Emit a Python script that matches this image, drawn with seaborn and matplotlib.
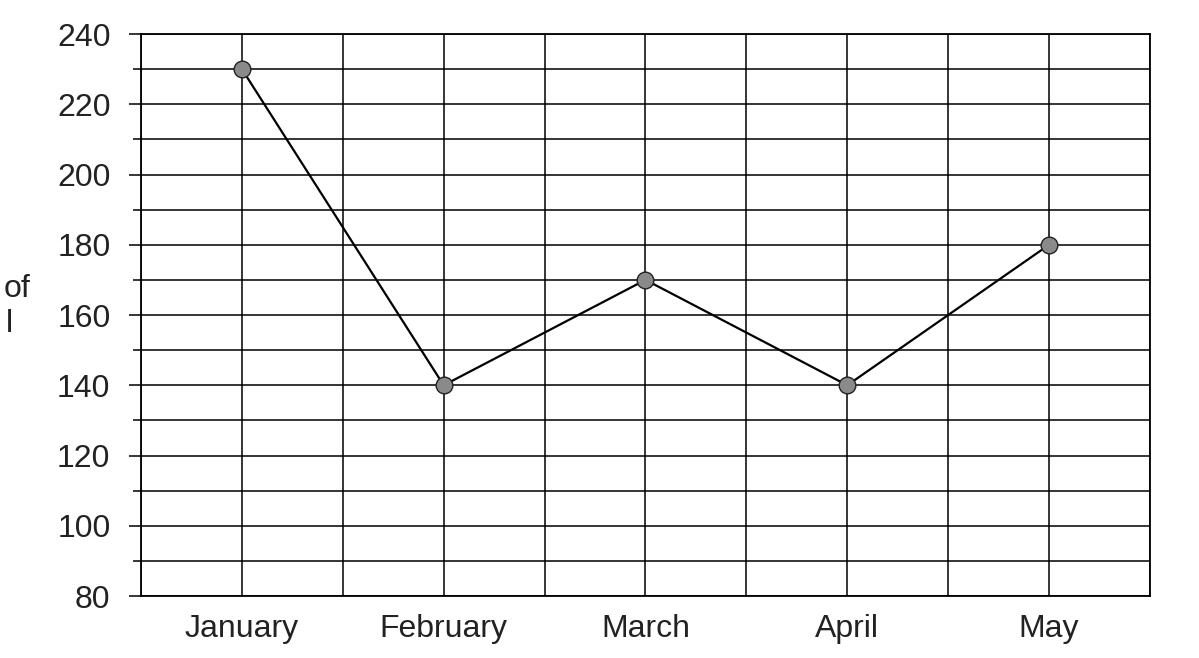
import numpy as np
import pandas as pd
import matplotlib
matplotlib.use("Agg")
import matplotlib.pyplot as plt
import seaborn as sns
from matplotlib.ticker import MultipleLocator

# data
months = ["January", "February", "March", "April", "May"]
values = [230, 140, 170, 140, 180]

sns.set_style("white")
plt.rcParams['font.family'] = ['Liberation Sans', 'DejaVu Sans']

df = pd.DataFrame({"month": months, "value": values})

fig = plt.figure(figsize=(11.99, 6.58), dpi=100)
ax = fig.add_axes([0.1176, 0.0942, 0.8415, 0.8541])

sns.lineplot(data=df, x="month", y="value", ax=ax, color="black", linewidth=1.6,
             marker="o", markersize=12, markerfacecolor="#8a8a8a",
             markeredgecolor="#222222", markeredgewidth=1.0, sort=False, zorder=5)

ax.set_xlim(-0.5, len(months) - 0.5)
ax.set_ylim(80, 240)
ax.yaxis.set_major_locator(MultipleLocator(20))
ax.yaxis.set_minor_locator(MultipleLocator(10))
ax.xaxis.set_minor_locator(MultipleLocator(0.5))

ax.grid(True, which="both", color="black", linewidth=1.1)
ax.set_axisbelow(True)
for s in ax.spines.values():
    s.set_color("black")
    s.set_linewidth(1.3)

ax.tick_params(axis="y", which="major", left=True, length=9, width=1.1, color="black",
               labelsize=23, pad=13, labelcolor="#222222")
ax.tick_params(axis="y", which="minor", left=True, length=6, width=1.1, color="black")
ax.tick_params(axis="x", which="both", bottom=False, length=0, labelsize=23, pad=13,
               labelcolor="#222222")
ax.set_xlabel("")
ax.set_ylabel("")

# clipped y-axis label remnants at the left edge
fig.text(0.003, 0.549, "of", fontsize=23, color="#222222", va="baseline")
fig.text(0.005, 0.496, "l", fontsize=23, color="#222222", va="baseline")

fig.savefig("out.png", dpi=100)
